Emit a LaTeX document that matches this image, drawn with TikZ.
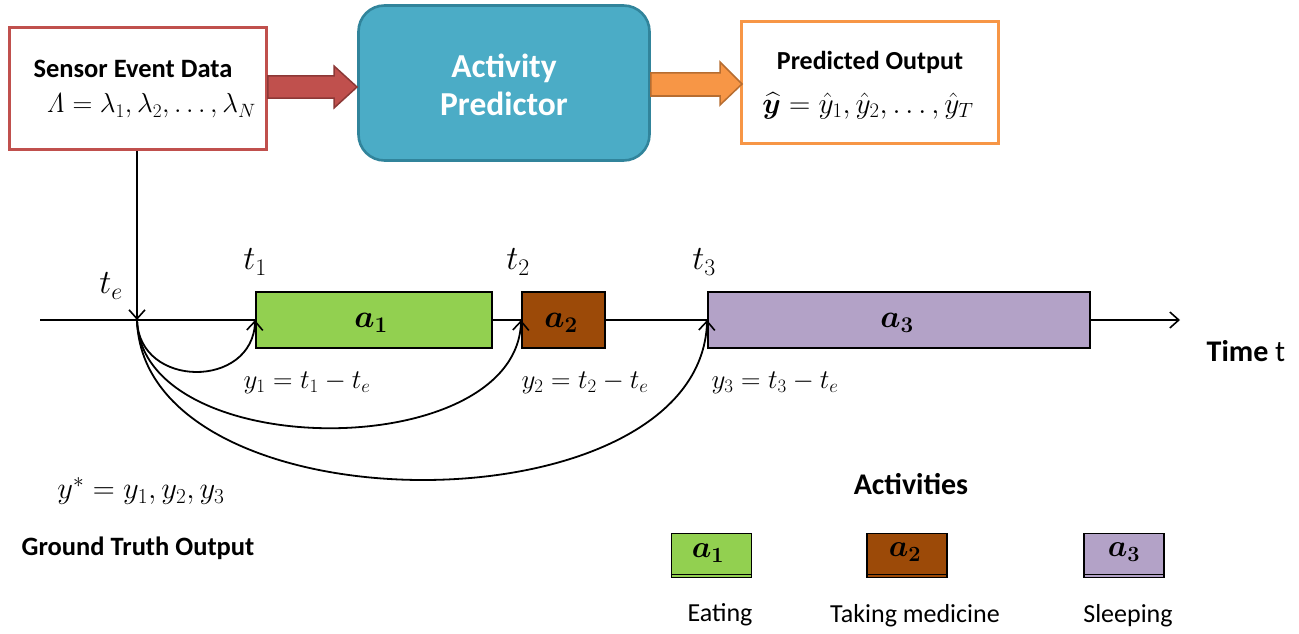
\RequirePackage{fix-cm}
\documentclass[tikz,border=0pt]{standalone}
\usepackage{amsmath,bm}
\usepackage[no-math]{fontspec}
\setmainfont{Carlito}
\usetikzlibrary{arrows.meta}
\definecolor{sred}{HTML}{C0504D}
\definecolor{sredd}{HTML}{8C3836}
\definecolor{pblue}{HTML}{4BACC6}
\definecolor{pblued}{HTML}{31849B}
\definecolor{porange}{HTML}{F79646}
\definecolor{porangel}{HTML}{B66D31}
\definecolor{agreen}{HTML}{92D050}
\definecolor{abrown}{HTML}{9C4A08}
\definecolor{apurple}{HTML}{B3A2C7}
\newcommand{\fs}[1]{\fontsize{#1}{#1}\selectfont}
\tikzset{
  lbl/.style={inner sep=0pt, outer sep=0pt},
  actbox/.style={draw=black, line width=1.8pt, inner sep=0pt, minimum height=56pt},
  legbox/.style={draw=black, line width=1.5pt, inner sep=0pt, minimum width=80pt, minimum height=44pt},
  tip/.style={-{Straight Barb[length=9pt,width=16pt,line width=1.6pt]}},
  conn/.style={line width=1.8pt, tip},
}
\begin{document}
\begin{tikzpicture}[x=1pt,y=-1pt]
\useasboundingbox (0,0) rectangle (1299,634);
% top boxes
\node[draw=sred, fill=white, line width=2.6pt, minimum width=257pt, minimum height=122pt] (sensor) at (138,88.5) {};
\node[lbl, font=\bfseries\fs{26.5}] (sensorT) at (133,69) {Sensor Event Data};
\node[lbl, font=\fs{27.5}] (sensorM) at (151,106) {$\mathit{\Lambda}=\lambda_1,\lambda_2,\ldots,\lambda_N$};

\node[draw=pblued, fill=pblue, line width=2.6pt, rounded corners=26pt, minimum width=291pt, minimum height=155pt] (pred) at (504,83) {};
\node[lbl, font=\bfseries\fs{33.5}, text=white, align=center] (predT) at (504,85) {Activity\\[4pt]Predictor};

\node[draw=porange, fill=white, line width=2.6pt, minimum width=257pt, minimum height=122pt] (out) at (870,82.5) {};
\node[lbl, font=\bfseries\fs{26}] (outT) at (870,62) {Predicted Output};
\node[lbl, font=\fs{29.5}] (outM) at (868,106) {$\widehat{\bm{y}}=\hat{y}_1,\hat{y}_2,\ldots,\hat{y}_T$};

% block arrows
\draw[fill=sred, draw=sredd, line width=1.5pt, line join=miter]
  (sensor.east |- 0,76) -- (334,76) -- (334,66) -- (357,87) -- (334,108) -- (334,98) -- (sensor.east |- 0,98) -- cycle;
\draw[fill=porange, draw=porangel, line width=1.5pt, line join=miter]
  (pred.east |- 0,73) -- (720,73) -- (720,62) -- (742,84) -- (720,105) -- (720,96) -- (pred.east |- 0,96) -- cycle;

% time axis
\coordinate (axL) at (40,320);
\coordinate (axR) at (1180,320);
\coordinate (te) at (137,320);
\draw[conn] (axL) -- (axR);

\node[actbox, fill=agreen, minimum width=236pt] (a1) at (374,320) {};
\node[actbox, fill=abrown, minimum width=83pt] (a2) at (563.5,320) {};
\node[actbox, fill=apurple, minimum width=382pt] (a3) at (899,320) {};
\node[lbl, font=\fs{32}] at (371,323) {$\bm{a_1}$};
\node[lbl, font=\fs{32}] at (561,323) {$\bm{a_2}$};
\node[lbl, font=\fs{32}] at (897,323) {$\bm{a_3}$};

\draw[conn] (sensor.south -| te) -- (te);

\draw[conn] (te) .. controls (139,389) and (253,389) .. (a1.west);
\draw[conn] (te) .. controls (141,464) and (517,464) .. (a2.west);
\draw[conn] (te) .. controls (143,533) and (701,533) .. (a3.west);

% labels
\node[lbl, font=\fs{34}] (tel) at (111,286) {$t_e$};
\node[lbl, font=\fs{34}] (t1) at (255,262) {$t_1$};
\node[lbl, font=\fs{34}] (t2) at (518,262) {$t_2$};
\node[lbl, font=\fs{34}] (t3) at (704,262) {$t_3$};
\node[lbl, font=\fs{27}] (y1) at (307,383) {$y_1=t_1-t_e$};
\node[lbl, font=\fs{27}] (y2) at (585,383) {$y_2=t_2-t_e$};
\node[lbl, font=\fs{27}] (y3) at (775,383) {$y_3=t_3-t_e$};
\node[lbl, font=\fs{30}] (time) at (1246,351) {\textbf{Time} t};

\node[lbl, font=\fs{30.5}] (ystar) at (141,491) {$y^{*}=y_1,y_2,y_3$};
\node[lbl, font=\bfseries\fs{26.5}] (gto) at (138,548) {Ground Truth Output};

% legend
\node[lbl, font=\bfseries\fs{30}] (acts) at (911,484) {Activities};
\node[legbox, fill=agreen] (l1) at (711.5,555.5) {};
\node[legbox, fill=abrown] (l2) at (907,555.5) {};
\node[legbox, fill=apurple] (l3) at (1124,555.5) {};
\foreach \n in {l1,l2,l3}{
  \draw[line width=1.2pt] ([yshift=4pt]\n.south west) -- ([yshift=4pt]\n.south east);
}
\node[lbl, font=\fs{31}] at (708,553) {$\bm{a_1}$};
\node[lbl, font=\fs{31}] at (905,552) {$\bm{a_2}$};
\node[lbl, font=\fs{31}] at (1124,552) {$\bm{a_3}$};
\node[lbl, font=\fs{26}] (eat) at (720,615) {Eating};
\node[lbl, font=\fs{26}] (med) at (915,616) {Taking medicine};
\node[lbl, font=\fs{26}] (slp) at (1128,616) {Sleeping};
\end{tikzpicture}
\end{document}
